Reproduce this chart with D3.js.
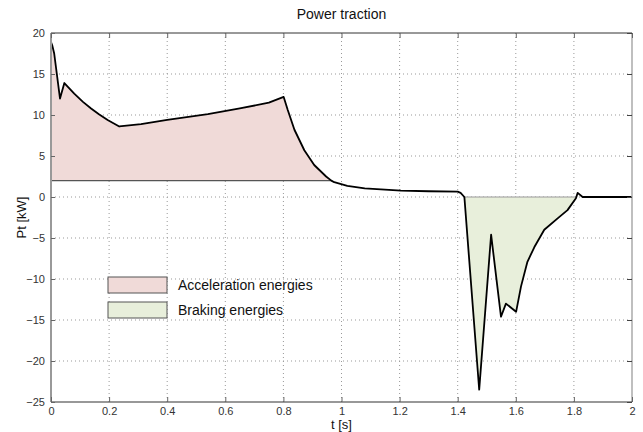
<!DOCTYPE html>
<html><head><meta charset="utf-8">
<script src="https://cdn.jsdelivr.net/npm/d3@7"></script>
<style>body{margin:0;background:#fff}svg{display:block}</style>
</head><body>
<svg id="c" width="643" height="432"></svg>
<script>
const time  = [0,0.005,0.011,0.031,0.046,0.08,0.11,0.138,0.165,0.195,0.215,0.235,0.31,0.40,0.54,0.65,0.75,0.801,0.815,0.838,0.872,0.906,0.947,0.965,0.975,1.02,1.08,1.205,1.30,1.40,1.41,1.423,1.474,1.515,1.549,1.566,1.601,1.618,1.64,1.664,1.698,1.744,1.778,1.807,1.813,1.83,2.0];
const power = [18.9,18.4,17.5,12.0,13.9,12.6,11.6,10.8,10.1,9.4,9.0,8.6,8.9,9.4,10.1,10.8,11.5,12.2,10.6,8.2,5.7,3.9,2.5,2.0,1.8,1.35,1.05,0.78,0.7,0.65,0.5,0,-23.5,-4.6,-14.6,-13.0,-14.0,-10.9,-7.9,-6.1,-4.0,-2.6,-1.6,-0.15,0.5,0,0];
const accRange = [0, 0.965], accBase = 2;
const brkRange = [1.423, 1.807], brkBase = 0;
const xTicks = [0,0.2,0.4,0.6,0.8,1,1.2,1.4,1.6,1.8,2];
const yTicks = [-25,-20,-15,-10,-5,0,5,10,15,20];
const legendLabels = ["Acceleration energies","Braking energies"];

const W=643,H=432, m={l:51,r:11,t:33,b:30};
const svg=d3.select("#c");
const x=d3.scaleLinear().domain([0,2]).range([m.l,W-m.r]);
const y=d3.scaleLinear().domain([-25,20]).range([H-m.b,m.t]);
const pts=time.map((t,i)=>({t,v:power[i]}));
const font="'Liberation Sans', Arial, sans-serif";

// grid
const g=svg.append("g");
g.selectAll(".gx").data(xTicks.slice(1,-1)).join("line")
 .attr("x1",d=>x(d)).attr("x2",d=>x(d)).attr("y1",m.t).attr("y2",H-m.b)
 .attr("stroke","#999").attr("stroke-dasharray","1,3");
g.selectAll(".gy").data(yTicks.slice(1,-1)).join("line")
 .attr("y1",d=>y(d)).attr("y2",d=>y(d)).attr("x1",m.l).attr("x2",W-m.r)
 .attr("stroke","#999").attr("stroke-dasharray","1,3");

// fills
const accPts=pts.filter(p=>p.t>=accRange[0]&&p.t<=accRange[1]);
const brkPts=pts.filter(p=>p.t>=brkRange[0]&&p.t<=brkRange[1]);
svg.append("path").datum(accPts)
 .attr("d",d3.area().x(p=>x(p.t)).y0(y(accBase)).y1(p=>y(p.v)))
 .attr("fill","#f0dad8");
svg.append("path").datum(brkPts)
 .attr("d",d3.area().x(p=>x(p.t)).y0(y(brkBase)).y1(p=>y(p.v)))
 .attr("fill","#e8efdb");
svg.append("line").attr("x1",x(accRange[0])).attr("x2",x(accRange[1]))
 .attr("y1",y(accBase)).attr("y2",y(accBase)).attr("stroke","#555").attr("stroke-width",1.2);
svg.append("line").attr("x1",x(brkRange[0])).attr("x2",x(brkRange[1]))
 .attr("y1",y(brkBase)).attr("y2",y(brkBase)).attr("stroke","#999").attr("stroke-width",1.2);

// curve
svg.append("path").datum(pts)
 .attr("d",d3.line().x(p=>x(p.t)).y(p=>y(p.v)))
 .attr("fill","none").attr("stroke","#000").attr("stroke-width",1.8).attr("stroke-linejoin","round");

// frame
svg.append("line").attr("x1",m.l).attr("x2",W-m.r).attr("y1",m.t).attr("y2",m.t).attr("stroke","#333").attr("stroke-width",1);
svg.append("line").attr("x1",W-m.r).attr("x2",W-m.r).attr("y1",m.t).attr("y2",H-m.b).attr("stroke","#aaa").attr("stroke-width",1.5);
svg.append("line").attr("x1",m.l).attr("x2",m.l).attr("y1",m.t).attr("y2",H-m.b).attr("stroke","#999").attr("stroke-width",2);
svg.append("line").attr("x1",m.l).attr("x2",W-m.r).attr("y1",H-m.b).attr("y2",H-m.b).attr("stroke","#333").attr("stroke-width",1.2);

// axes
const ax=svg.append("g").attr("transform",`translate(0,${H-m.b})`)
 .call(d3.axisBottom(x).tickValues(xTicks).tickSize(-5).tickPadding(5).tickFormat(d3.format("")));
ax.select(".domain").remove();
ax.selectAll("line").attr("stroke","#666");
ax.selectAll("text").attr("font-family",font).attr("font-size",11).attr("fill","#333");
const axT=svg.append("g").attr("transform",`translate(0,${m.t})`)
 .call(d3.axisTop(x).tickValues(xTicks).tickSize(-5).tickFormat(""));
axT.select(".domain").remove(); axT.selectAll("line").attr("stroke","#666");
const ay=svg.append("g").attr("transform",`translate(${m.l},0)`)
 .call(d3.axisLeft(y).tickValues(yTicks).tickSize(-4).tickPadding(6));
ay.select(".domain").remove();
ay.selectAll("line").attr("stroke","#666");
ay.selectAll("text").attr("font-family",font).attr("font-size",11).attr("fill","#333");
const ayR=svg.append("g").attr("transform",`translate(${W-m.r},0)`)
 .call(d3.axisRight(y).tickValues(yTicks).tickSize(-5).tickFormat(""));
ayR.select(".domain").remove(); ayR.selectAll("line").attr("stroke","#444");

// labels
svg.append("text").attr("x",x(1)).attr("y",19).attr("text-anchor","middle")
 .attr("font-family",font).attr("font-size",14).attr("fill","#111").text("Power traction");
svg.append("text").attr("x",x(1)).attr("y",429).attr("text-anchor","middle")
 .attr("font-family",font).attr("font-size",13).attr("fill","#111").text("t [s]");
svg.append("text").attr("transform",`translate(26,${y(-2.5)}) rotate(-90)`).attr("text-anchor","middle")
 .attr("font-family",font).attr("font-size",13).attr("fill","#111").text("Pt [kW]");

// legend
const legColors=["#f0dad8","#e8efdb"];
const lg=svg.append("g");
legendLabels.forEach((lab,i)=>{
  const yy=277+i*25;
  lg.append("rect").attr("x",108).attr("y",yy).attr("width",59).attr("height",16)
    .attr("fill",legColors[i]).attr("stroke","#555").attr("stroke-width",1);
  lg.append("text").attr("x",178).attr("y",yy+13).attr("font-family",font).attr("font-size",14)
    .attr("fill","#111").text(lab);
});
</script>
</body></html>
